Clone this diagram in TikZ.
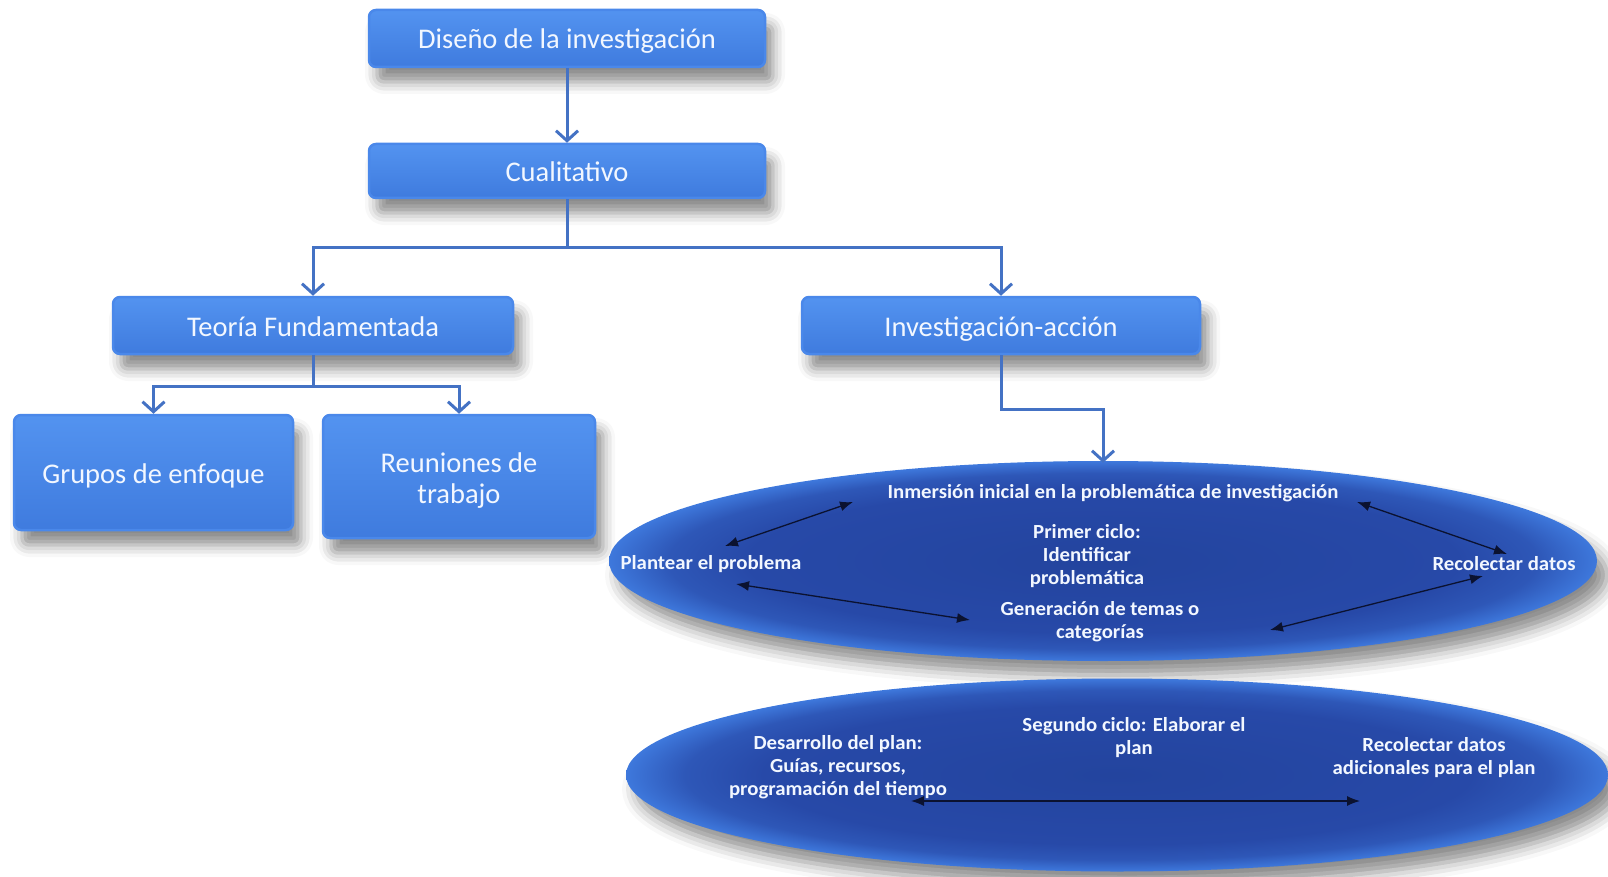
\documentclass[tikz,border=0pt]{standalone}
\usepackage{fontspec}
\setmainfont{Carlito}
\newfontfamily\condfont[FakeStretch=1.04]{Carlito}
\usetikzlibrary{shapes.geometric,shadows.blur,arrows.meta}

\definecolor{boxtop}{HTML}{5393F0}
\definecolor{boxmid}{HTML}{3A70D3}
\definecolor{boxbot}{HTML}{3F7BDE}
\definecolor{boxrim}{HTML}{4A88EA}
\definecolor{ovin}{HTML}{23449E}
\definecolor{ovmid}{HTML}{2749A8}
\definecolor{ovout}{HTML}{3E78DC}
\definecolor{linkblue}{HTML}{4472C4}
\definecolor{txt}{HTML}{F2F7FF}
\definecolor{tipdark}{HTML}{0B1230}

% dark body with a brighter rim for the cycle ovals
\pgfdeclareradialshading{ovalshade}{\pgfpoint{0bp}{0bp}}{%
  color(0bp)=(ovin); color(18bp)=(ovmid); color(22bp)=(ovmid!70!ovout);
  color(25bp)=(ovout); color(50bp)=(ovout)}

\tikzset{
  stepbox/.style={rectangle, rounded corners=7pt, top color=boxtop,
    middle color=boxmid, bottom color=boxbot, draw=boxrim, line width=2.5pt,
    text=txt, font=\fontsize{28.5}{31}\selectfont, align=center, inner sep=0pt,
    blur shadow={shadow xshift=8pt, shadow yshift=-15pt,
      shadow blur radius=12pt, shadow opacity=45}},
  oneline/.style={text height=22pt, text depth=1pt},
  cycleoval/.style={ellipse, inner sep=0pt, shading=ovalshade, draw=none,
    blur shadow={shadow xshift=10pt, shadow yshift=-14pt,
      shadow blur radius=14pt, shadow opacity=45}},
  ovtext/.style={text=txt, font=\condfont\bfseries\fontsize{20}{23}\selectfont,
    align=center, inner sep=0pt},
  conn/.style={draw=linkblue, line width=3pt,
    -{Straight Barb[length=10pt,width=22pt,line width=3pt]}},
  dbl/.style={draw=tipdark, line width=1.3pt,
    {Latex[length=13pt,width=10pt]}-{Latex[length=13pt,width=10pt]}}
}

\begin{document}
\begin{tikzpicture}[x=1pt,y=-1pt]
  \path[use as bounding box] (0,0) rectangle (1608,877);

  % main boxes
  \node[stepbox, oneline, minimum width=396pt, minimum height=57pt] (dis) at (567,38.5)
    {Diseño de la investigación};
  \node[stepbox, oneline, minimum width=396pt, minimum height=54pt] (cual) at (567,171)
    {Cualitativo};
  \node[stepbox, oneline, minimum width=400pt, minimum height=57pt] (teo) at (313,325.5)
    {Teoría Fundamentada};
  \node[stepbox, oneline, minimum width=398pt, minimum height=57pt] (inv) at (1001,325.5)
    {Investigación-acción};
  \node[stepbox, oneline, minimum width=279pt, minimum height=115pt] (gru) at (153.5,472.5)
    {Grupos de enfoque};
  \node[stepbox, minimum width=272pt, minimum height=123pt] (reu) at (459,476.5)
    {\rule{0pt}{27pt}Reuniones de\\trabajo};

  % the two cycles
  \node[cycleoval, minimum width=988pt, minimum height=200pt] (c1) at (1103,561) {};
  \node[cycleoval, minimum width=982pt, minimum height=193pt] (c2) at (1117,775) {};

  % tree connectors
  \draw[conn] (dis.south) -- (cual.north);
  \draw[conn] (cual.south) -- ++(0,48) -| (teo.north);
  \draw[conn] (cual.south) -- ++(0,48) -| (inv.north);
  \draw[conn] (teo.south) -- ++(0,31) -| (gru.north);
  \draw[conn] (teo.south) -- ++(0,31) -| (reu.north);
  \draw[conn] (inv.south) -- ++(0,54) -| ([yshift=-2pt]c1.north);

  % first cycle
  \node[ovtext] (inm) at (1113,493) {Inmersión inicial en la problemática de investigación};
  \node[ovtext] (pri) at (1087,556) {Primer ciclo:\\Identificar\\problemática};
  \node[ovtext] (pla) at (711,564) {Plantear el problema};
  \node[ovtext] (rec) at (1504,564) {Recolectar datos};
  \node[ovtext] (gen) at (1100,622) {Generación de temas o\\categorías};

  \coordinate (pa) at (725,546);  \coordinate (ia) at (853,502);
  \coordinate (ib) at (1357,502); \coordinate (rb) at (1507,554);
  \coordinate (pc) at (736,584);  \coordinate (gc) at (970,620);
  \coordinate (gd) at (1270,630); \coordinate (rd) at (1483,576);
  \draw[dbl] (pa) -- (ia);
  \draw[dbl] (ib) -- (rb);
  \draw[dbl] (pc) -- (gc);
  \draw[dbl] (gd) -- (rd);

  % second cycle
  \node[ovtext] (seg) at (1134,738) {Segundo ciclo: Elaborar el\\plan};
  \node[ovtext] (des) at (838,767) {Desarrollo del plan:\\Guías, recursos,\\programación del tiempo};
  \node[ovtext] (ada) at (1434,758) {Recolectar datos\\adicionales para el plan};
  \coordinate (de) at (911,801); \coordinate (ae) at (1360,801);
  \draw[dbl] (de) -- (ae);
\end{tikzpicture}
\end{document}
